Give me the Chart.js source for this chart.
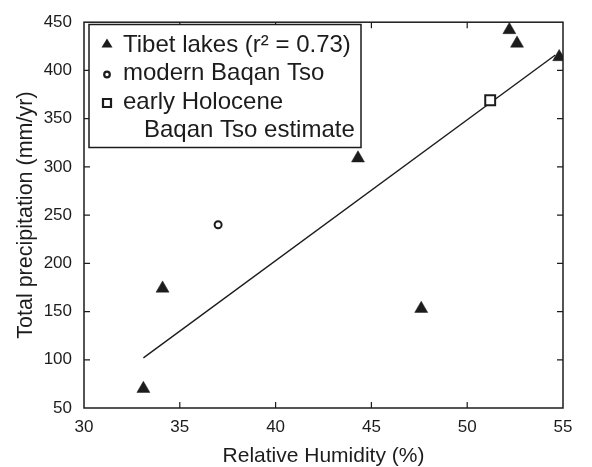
<!doctype html>
<html lang="en">
  <head>
    <meta charset="UTF-8" />
    <title>Precipitation vs Relative Humidity</title>
    <style>
      body { margin: 0; background: #fff; }
    </style>
  </head>
  <body>
    <canvas id="rh-chart" width="592" height="467"></canvas>
    <script src="https://cdn.jsdelivr.net/npm/chart.js"></script>
    <script>
      // data
      const xTicks = [30, 35, 40, 45, 50, 55];
      const yTicks = [50, 100, 150, 200, 250, 300, 350, 400, 450];

      const tibetRH = [33.1, 34.1, 44.3, 47.6, 52.2, 52.6, 54.8];
      const tibetPrecip = [70, 174, 309, 153, 442, 428, 414];

      const modernRH = [37.0];
      const modernPrecip = [240];

      const holoceneRH = [51.2];
      const holocenePrecip = [369];

      const fitRH = [33.1, 54.6];
      const fitPrecip = [102, 416];

      const legendLabels = ['Tibet lakes (r\u00B2 = 0.73)', 'modern Baqan Tso', 'early Holocene', 'Baqan Tso estimate'];

      const ink = '#1c1c1c';
      const fontFamily = "'Liberation Sans', Arial, sans-serif";

      const toPoints = (xs, ys) => xs.map((x, i) => ({ x: x, y: ys[i] }));

      // frame, inward ticks on all four sides, and the boxed legend
      const framePlugin = {
        id: 'frame',
        afterDraw(chart) {
          const ctx = chart.ctx;
          const { left, right, top, bottom } = chart.chartArea;
          const xs = chart.scales.x;
          const ys = chart.scales.y;
          const tick = 6;

          ctx.save();
          ctx.strokeStyle = ink;
          ctx.lineWidth = 1.5;
          ctx.strokeRect(left, top, right - left, bottom - top);

          ctx.lineWidth = 1.2;
          ctx.beginPath();
          xTicks.forEach(v => {
            const px = xs.getPixelForValue(v);
            if (px <= left + 1 || px >= right - 1) return;
            ctx.moveTo(px, bottom); ctx.lineTo(px, bottom - tick);
            ctx.moveTo(px, top); ctx.lineTo(px, top + tick);
          });
          yTicks.forEach(v => {
            const py = ys.getPixelForValue(v);
            if (py <= top + 1 || py >= bottom - 1) return;
            ctx.moveTo(left, py); ctx.lineTo(left + tick, py);
            ctx.moveTo(right, py); ctx.lineTo(right - tick, py);
          });
          ctx.stroke();

          // legend box
          const bx = 89, by = 24.5, bw = 272, bh = 123;
          ctx.fillStyle = '#fff';
          ctx.fillRect(bx, by, bw, bh);
          ctx.lineWidth = 1.5;
          ctx.strokeRect(bx, by, bw, bh);

          const mx = 107;
          // triangle
          ctx.fillStyle = ink;
          ctx.beginPath();
          ctx.moveTo(mx, 38.5);
          ctx.lineTo(mx + 5.5, 47.5);
          ctx.lineTo(mx - 5.5, 47.5);
          ctx.closePath();
          ctx.fill();
          // circle
          ctx.lineWidth = 2.2;
          ctx.beginPath();
          ctx.arc(mx, 74.5, 2.8, 0, Math.PI * 2);
          ctx.fillStyle = '#fff';
          ctx.fill();
          ctx.stroke();
          // square
          ctx.beginPath();
          ctx.rect(mx - 4, 99, 8, 8);
          ctx.fill();
          ctx.stroke();

          ctx.fillStyle = ink;
          ctx.font = '24px ' + fontFamily;
          ctx.textBaseline = 'alphabetic';
          ctx.textAlign = 'left';
          ctx.fillText(legendLabels[0], 123, 51.5);
          ctx.fillText(legendLabels[1], 123, 80);
          ctx.fillText(legendLabels[2], 123, 108.5);
          ctx.fillText(legendLabels[3], 144, 137);
          ctx.restore();
        }
      };

      const ctx = document.getElementById('rh-chart').getContext('2d');
      const rhChart = new Chart(ctx, {
        type: 'scatter',
        data: {
          datasets: [
            {
              label: 'Tibet lakes',
              data: toPoints(tibetRH, tibetPrecip),
              pointStyle: 'triangle',
              pointRadius: 7.5,
              pointBackgroundColor: ink,
              pointBorderColor: ink,
              pointBorderWidth: 0.5
            },
            {
              label: 'modern Baqan Tso',
              data: toPoints(modernRH, modernPrecip),
              pointStyle: 'circle',
              pointRadius: 3.5,
              pointBackgroundColor: '#fff',
              pointBorderColor: ink,
              pointBorderWidth: 2
            },
            {
              label: 'early Holocene Baqan Tso estimate',
              data: toPoints(holoceneRH, holocenePrecip),
              pointStyle: 'rect',
              pointRadius: 7,
              pointBackgroundColor: '#fff',
              pointBorderColor: ink,
              pointBorderWidth: 2
            },
            {
              label: 'fit',
              data: toPoints(fitRH, fitPrecip),
              showLine: true,
              borderColor: ink,
              borderWidth: 1.4,
              pointRadius: 0
            }
          ]
        },
        options: {
          responsive: false,
          animation: false,
          layout: { padding: { top: 19, right: 29, left: 0, bottom: 0 } },
          plugins: {
            legend: { display: false },
            tooltip: { enabled: false }
          },
          scales: {
            x: {
              type: 'linear',
              min: 30,
              max: 55,
              afterFit: scale => { scale.height = 59; },
              afterBuildTicks: scale => { scale.ticks = xTicks.map(v => ({ value: v })); },
              grid: { display: false, drawTicks: false },
              border: { display: false },
              ticks: {
                padding: 9,
                color: ink,
                font: { family: fontFamily, size: 17 }
              },
              title: {
                display: true,
                text: 'Relative Humidity (%)',
                color: ink,
                font: { family: fontFamily, size: 21, lineHeight: 1 },
                padding: { top: 0, bottom: 0.5 }
              }
            },
            y: {
              type: 'linear',
              min: 50,
              max: 450,
              afterFit: scale => { scale.width = 84; },
              afterBuildTicks: scale => { scale.ticks = yTicks.map(v => ({ value: v })); },
              grid: { display: false, drawTicks: false },
              border: { display: false },
              ticks: {
                padding: 12,
                color: ink,
                font: { family: fontFamily, size: 17 }
              },
              title: {
                display: true,
                text: 'Total precipitation (mm/yr)',
                color: ink,
                font: { family: fontFamily, size: 21.5, lineHeight: 1 },
                padding: { top: 15.5, bottom: 0 }
              }
            }
          }
        },
        plugins: [framePlugin]
      });
    </script>
  </body>
</html>
